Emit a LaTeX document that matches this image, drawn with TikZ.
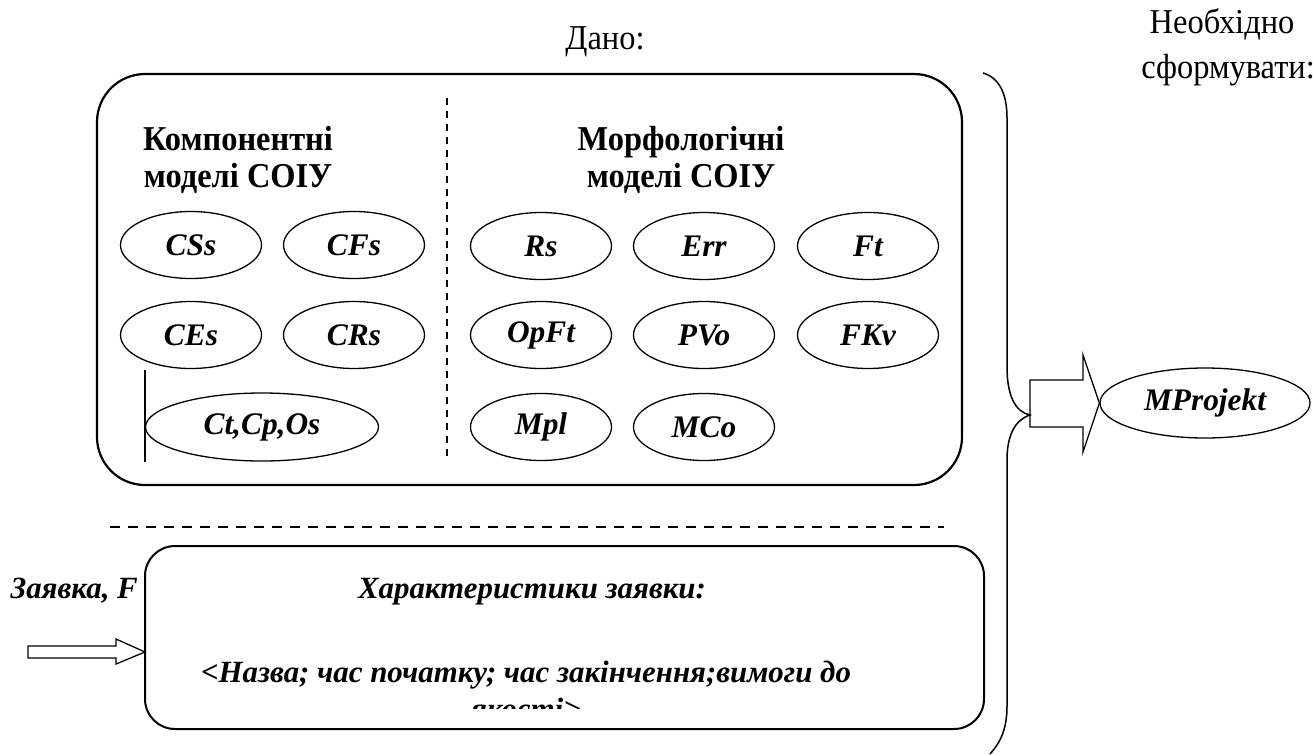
\documentclass[tikz,border=0pt]{standalone}
\usepackage{fontspec}
\setmainfont{Liberation Serif}
\newfontfamily\narrowserif{Liberation Serif}[FakeStretch=0.93]
\usetikzlibrary{shapes.geometric}
\begin{document}
\begin{tikzpicture}[x=1bp,y=-1bp,
  model/.style={draw,ellipse,line width=1.3bp,inner sep=0pt,
    minimum width=141bp,minimum height=67bp,
    font=\fontsize{31.5}{31.5}\selectfont\bfseries\itshape},
  head/.style={anchor=base,inner sep=0pt,font=\narrowserif\fontsize{35}{35}\selectfont\bfseries},
  plain/.style={anchor=base,inner sep=0pt,font=\narrowserif\fontsize{35}{35}\selectfont},
  req/.style={anchor=base,inner sep=0pt,font=\fontsize{31}{31}\selectfont\bfseries\itshape},
  box/.style={line width=2.2bp},
  sep/.style={line width=1.3bp,dash pattern=on 7bp off 6bp},
  blockarrow/.style={draw,line width=1.3bp,fill=white,line join=miter}
]
\useasboundingbox (0,0) rectangle (1313,754);

% titles
\node[plain] (given) at (605,50) {Дано:};
\node[plain] (need1) at (1222,34) {Необхідно};
\node[plain] (need2) at (1228,78) {сформувати:};

% upper frame with the two model groups
\draw[box,rounded corners=48bp] (97,74) rectangle (962,485);
\coordinate (divtop) at (447,98);
\coordinate (divbot) at (447,462);
\draw[sep] (divtop) -- (divbot);

\node[head] (comp1) at (238,150) {Компонентні};
\node[head] (comp2) at (238,187) {моделі СОІУ};
\node[head] (morf1) at (681,150) {Морфологічні};
\node[head] (morf2) at (681,187) {моделі СОІУ};

\node[model] (CSs) at (191,245) {CSs};
\node[model] (CFs) at (354,245) {CFs};
\node[model] (CEs) at (191,335) {CEs};
\node[model] (CRs) at (354,335) {CRs};
\node[model,minimum width=233bp,minimum height=68bp] (Ct) at (262,427) {Ct,Cp,Os};
\coordinate (bartop) at (145,370);
\coordinate (barbot) at (145,462);
\draw[line width=1.3bp] (bartop) -- (barbot);

\node[model] (Rs)   at (541,246) {Rs};
\node[model] (Err)  at (704,246) {Err};
\node[model] (Ft)   at (868,246) {Ft};
\node[model] (OpFt) at (541,335) {OpFt};
\node[model] (PVo)  at (704,335) {PVo};
\node[model] (FKv)  at (868,335) {FKv};
\node[model] (Mpl)  at (541,427) {Mpl};
\node[model] (MCo)  at (704,427) {MCo};

% horizontal separator
\coordinate (hsepL) at (110,527);
\coordinate (hsepR) at (944,527);
\draw[line width=1.5bp,dash pattern=on 10bp off 8bp] (hsepL) -- (hsepR);

% lower frame: request characteristics
\draw[box,line width=2bp,rounded corners=30bp] (145,546) rectangle (984,729);
\node[req,anchor=base east] (zayavka) at (138,598) {Заявка, F};
\node[req] (char) at (532,598) {Характеристики заявки:};
\node[req] (line1) at (526,682) {<Назва; час початку; час закінчення;вимоги до};
\begin{scope}
  \clip (146,547) rectangle (983,708);
  \node[req] (line2) at (526,719) {якості>};
\end{scope}

% input arrow
\coordinate (intip) at (145,652);
\draw[blockarrow] (28,646) -- (116,646) -- (116,639) -- (intip)
  -- (116,664) -- (116,658) -- (28,658) -- cycle;

% result
\node[model,minimum width=210bp,minimum height=70bp] (MProjekt) at (1205,403) {MProjekt};
\coordinate (outtip) at (MProjekt.west);
\draw[blockarrow] (1030,380) -- (1083,380) -- (1083,355) -- (outtip)
  -- (1083,452) -- (1083,427) -- (1030,427) -- cycle;

% brace gathering everything into the result
\coordinate (brtop) at (983,73);
\coordinate (brtip) at (1030,415);
\coordinate (brbot) at (990,754);
\draw[line width=1.5bp] (brtop) .. controls (1000,78) and (1007,95) .. (1007,118)
  -- (1007,367) .. controls (1007,395) and (1015,412) .. (brtip)
  .. controls (1015,420) and (1007,435) .. (1007,460)
  -- (1007,706) .. controls (1007,728) and (1001,742) .. (brbot);
\end{tikzpicture}
\end{document}
